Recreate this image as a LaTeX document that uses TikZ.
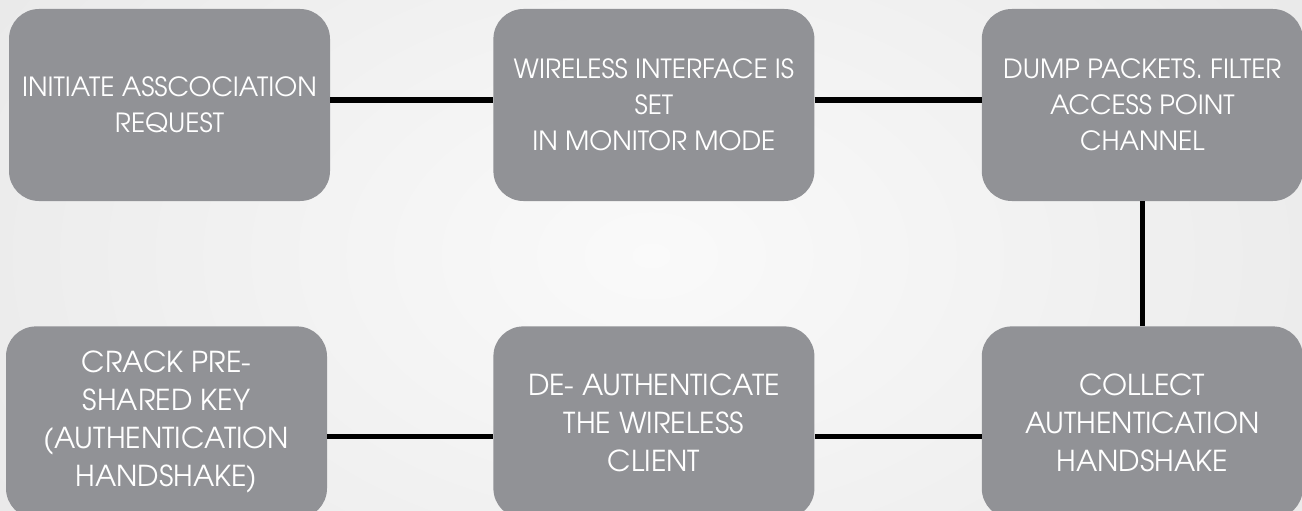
\documentclass[tikz,border=0pt]{standalone}
\usepackage{fontspec}
\setmainfont{TeX Gyre Adventor}
\usetikzlibrary{positioning}
\definecolor{boxgray}{RGB}{145,146,150}

\begin{document}
\begin{tikzpicture}[
    x=1pt, y=-1pt,
    node distance=163pt,
    stage/.style={rectangle, rounded corners=30pt, minimum width=321pt, minimum height=192pt, inner sep=0pt, align=center, fill=boxgray, text=white, font=\fontsize{26.4}{36}\selectfont},
    lowstage/.style={stage, font=\fontsize{28.8}{38}\selectfont},
    link/.style={line width=5.5pt, black}
]
\useasboundingbox (0,0) rectangle (1302,511);
\clip (0,0) rectangle (1302,511);
\shade[inner color=white!98!black, outer color=white!91!black] (-200,-300) rectangle (1502,811);

\node (assoc) [stage] at (169.5,105) {INITIATE ASSCOCIATION\\REQUEST};
\node (monitor) [stage, right=of assoc] {WIRELESS INTERFACE IS\\SET\\IN MONITOR MODE};
\node (dump) [stage, right=167pt of monitor] {DUMP PACKETS. FILTER\\ACCESS POINT\\CHANNEL};
\node (collect) [lowstage, below=125pt of dump] {COLLECT\\AUTHENTICATION\\HANDSHAKE};
\node (deauth) [lowstage, left=167pt of collect] {DE- AUTHENTICATE\\THE WIRELESS\\CLIENT};
\node (crack) [lowstage, left=166pt of deauth] {CRACK PRE-\\SHARED KEY\\(AUTHENTICATION\\HANDSHAKE)};

\draw [link] ([yshift=5pt]assoc.east) -- ([yshift=5pt]monitor.west);
\draw [link] ([yshift=5pt]monitor.east) -- ([yshift=5pt]dump.west);
\draw [link] (dump.south) -- (collect.north);
\draw [link] ([yshift=-14pt]collect.west) -- ([yshift=-14pt]deauth.east);
\draw [link] ([yshift=-14pt]deauth.west) -- ([yshift=-14pt]crack.east);

\end{tikzpicture}
\end{document}
